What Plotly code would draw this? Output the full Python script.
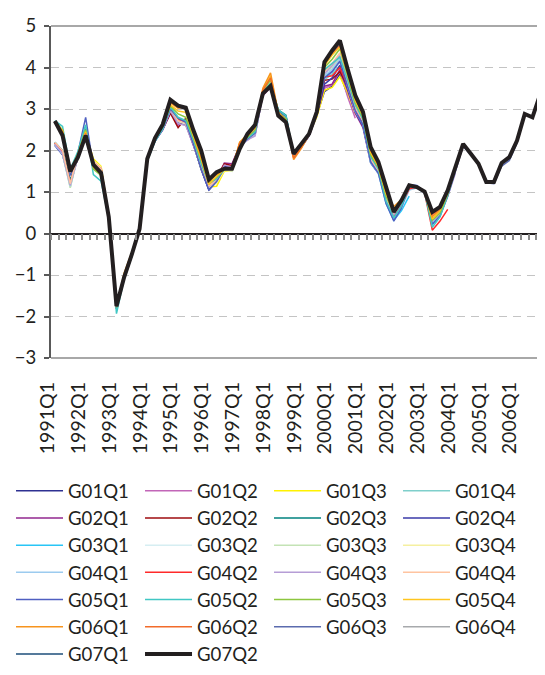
import plotly.graph_objects as go

# ---------------- data ----------------
quarters = [f"{y}Q{q}" for y in range(1991, 2007) for q in range(1, 5)]
x_ticktext = [q if q.endswith("Q1") else "" for q in quarters]

series_names = ["G01Q1", "G01Q2", "G01Q3", "G01Q4",
                "G02Q1", "G02Q2", "G02Q3", "G02Q4",
                "G03Q1", "G03Q2", "G03Q3", "G03Q4",
                "G04Q1", "G04Q2", "G04Q3", "G04Q4",
                "G05Q1", "G05Q2", "G05Q3", "G05Q4",
                "G06Q1", "G06Q2", "G06Q3", "G06Q4",
                "G07Q1", "G07Q2"]

series_colors = ["#2E3192", "#C266B8", "#FFF200", "#7FCFCB",
                 "#92278F", "#9E0B0F", "#00827F", "#3A3AA8",
                 "#29C5F6", "#D6EEF2", "#C4E3B5", "#F5F0A0",
                 "#9CCBEF", "#FF2A2A", "#B69DD6", "#FFC4A0",
                 "#4F5FC1", "#40C7C4", "#8DC63F", "#FFC51F",
                 "#F7941D", "#F26B2A", "#5B6BAE", "#A7A9AC",
                 "#1C4E7A", "#231F20"]

g01q1 = [2.15, 1.95, 1.15, 1.85, 2.40, 1.75, 1.55, 0.40,
         -1.78, -1.05, -0.52, 0.10, 1.78, 2.25, 2.55,
         2.95, 2.62, 2.70, 2.15, 1.55, 1.05, 1.30, 1.62,
         1.60, 2.10, 2.30, 2.40, 3.35, 3.55, 2.90, 2.75, 1.88, 2.10, 2.38, 2.85,
         3.42, 3.55, 3.85,
         3.35]
g01q2 = [2.18, 1.92, 1.20, 1.88, 2.45, 1.72, 1.58, 0.42,
         -1.80, -1.02, -0.48, 0.12, 1.80, 2.28, 2.58,
         2.92, 2.60, 2.72, 2.18, 1.58, 1.10, 1.32, 1.65,
         1.62, 2.08, 2.28, 2.42, 3.32, 3.52, 2.92, 2.76, 1.86, 2.08, 2.36, 2.84,
         3.50, 3.58, 3.92,
         3.30, 2.78]
g01q3 = [2.12, 1.98, 1.18, 1.90, 2.42, 1.80, 1.62, 0.45,
         -1.76, -0.98, -0.45, 0.14, 1.80, 2.26, 2.56,
         2.98, 2.70, 2.68, 2.15, 1.55, 1.12, 1.14, 1.50,
         1.52, 2.06, 2.32, 2.45, 3.38, 3.60, 2.88, 2.72, 1.86, 2.12, 2.40, 2.80,
         3.45, 3.52, 3.78,
         3.40, 2.90, 2.62]
g01q4 = [2.16, 1.90, 1.12, 1.92, 2.50, 1.70, 1.55, 0.40,
         -1.82, -1.05, -0.50, 0.10, 1.78, 2.24, 2.52,
         3.00, 2.72, 2.65, 2.18, 1.60, 1.15, 1.28, 1.58,
         1.58, 2.12, 2.30, 2.42, 3.36, 3.58, 2.92, 2.78, 1.88, 2.10, 2.38, 2.88,
         3.70, 3.85, 4.05,
         3.50, 2.95, 2.60, 1.75]
g02q1 = [2.14, 1.94, 1.22, 1.86, 2.44, 1.74, 1.56, 0.42,
         -1.78, -1.04, -0.50, 0.12, 1.79, 2.24, 2.50,
         2.90, 2.65, 2.62, 2.12, 1.58, 1.10, 1.30, 1.70,
         1.68, 2.12, 2.25, 2.40, 3.34, 3.55, 2.90, 2.76, 1.86, 2.10, 2.36, 2.86,
         3.55, 3.60, 3.95,
         3.45, 2.90, 2.55, 1.70, 1.45]
g02q2 = [2.18, 1.96, 1.25, 1.88, 2.46, 1.72, 1.58, 0.40,
         -1.80, -1.02, -0.48, 0.12, 1.80, 2.26, 2.52,
         2.90, 2.55, 2.78, 2.25, 1.62, 1.15, 1.35, 1.68,
         1.64, 2.10, 2.30, 2.44, 3.38, 3.58, 2.92, 2.80, 1.88, 2.10, 2.36, 2.86,
         3.69, 3.72, 3.90,
         3.55, 3.00, 2.65, 1.80, 1.50, 0.82]
g02q3 = [2.20, 2.00, 1.28, 1.92, 2.50, 1.68, 1.52, 0.38,
         -1.82, -1.06, -0.52, 0.10, 1.78, 2.25, 2.55,
         3.02, 2.75, 2.70, 2.20, 1.62, 1.15, 1.28, 1.58,
         1.58, 2.12, 2.30, 2.46, 3.42, 3.62, 2.98, 2.85, 1.90, 2.12, 2.38, 2.90,
         3.85, 3.95, 4.15,
         3.60, 3.05, 2.70, 1.85, 1.55, 0.85, 0.40]
g02q4 = [2.12, 1.90, 1.18, 1.88, 2.52, 1.70, 1.52, 0.40,
         -1.80, -1.04, -0.50, 0.10, 1.78, 2.22, 2.50,
         2.95, 2.68, 2.66, 2.14, 1.55, 1.05, 1.25, 1.60,
         1.60, 2.08, 2.28, 2.40, 3.35, 3.55, 2.95, 2.80, 1.86, 2.08, 2.35, 2.86,
         3.60, 3.75, 4.05,
         3.50, 2.95, 2.60, 1.75, 1.50, 0.80, 0.35, 0.60]
g03q1 = [2.20, 1.98, 1.20, 1.90, 2.48, 1.70, 1.55, 0.42,
         -1.82, -1.05, -0.50, 0.10, 1.78, 2.24, 2.54,
         3.00, 2.72, 2.66, 2.18, 1.58, 1.12, 1.25, 1.55,
         1.55, 2.10, 2.28, 2.45, 3.40, 3.62, 2.92, 2.78, 1.88, 2.10, 2.38, 2.88,
         3.80, 3.90, 4.20,
         3.55, 2.95, 2.62, 1.70, 1.45, 0.72, 0.32, 0.55, 0.90]
g03q2 = [2.15, 1.92, 1.10, 1.88, 2.42, 1.68, 1.50, 0.40,
         -1.80, -1.04, -0.50, 0.12, 1.80, 2.25, 2.52,
         2.98, 2.70, 2.64, 2.15, 1.58, 1.12, 1.28, 1.55,
         1.52, 2.08, 2.26, 2.40, 3.35, 3.58, 2.90, 2.78, 1.88, 2.10, 2.36, 2.85,
         3.85, 3.95, 4.20,
         3.55, 2.95, 2.65, 1.72, 1.45, 0.78, 0.40, 0.65, 1.05, 1.10]
g03q3 = [2.16, 1.94, 1.10, 1.90, 2.44, 1.70, 1.52, 0.40,
         -1.80, -1.03, -0.49, 0.12, 1.80, 2.26, 2.55,
         3.00, 2.72, 2.66, 2.16, 1.60, 1.15, 1.30, 1.56,
         1.50, 2.08, 2.28, 2.42, 3.36, 3.60, 2.92, 2.78, 1.88, 2.10, 2.38, 2.86,
         3.90, 4.00, 4.25,
         3.60, 3.00, 2.68, 1.75, 1.48, 0.80, 0.42, 0.68, 1.08, 1.12, 0.98]
g03q4 = [2.18, 1.96, 1.15, 1.92, 2.46, 1.76, 1.60, 0.42,
         -1.78, -1.00, -0.46, 0.14, 1.80, 2.26, 2.56,
         3.00, 2.70, 2.66, 2.16, 1.58, 1.12, 1.22, 1.52,
         1.52, 2.08, 2.30, 2.44, 3.38, 3.62, 2.90, 2.76, 1.86, 2.10, 2.38, 2.88,
         3.90, 4.05, 4.30,
         3.65, 3.05, 2.70, 1.78, 1.50, 0.82, 0.45, 0.70, 1.10, 1.12, 0.98, 0.30]
g04q1 = [2.14, 1.92, 1.14, 1.90, 2.46, 1.70, 1.54, 0.40,
         -1.80, -1.04, -0.50, 0.12, 1.80, 2.25, 2.54,
         3.00, 2.72, 2.66, 2.18, 1.60, 1.14, 1.26, 1.55,
         1.54, 2.10, 2.28, 2.42, 3.38, 3.60, 2.92, 2.78, 1.88, 2.10, 2.38, 2.88,
         3.80, 3.95, 4.20,
         3.60, 3.00, 2.68, 1.75, 1.48, 0.78, 0.38, 0.62, 1.05, 1.10, 0.96, 0.25, 0.45]
g04q2 = [2.18, 1.96, 1.22, 1.90, 2.48, 1.72, 1.56, 0.42,
         -1.80, -1.03, -0.49, 0.12, 1.80, 2.26, 2.55,
         3.00, 2.74, 2.68, 2.18, 1.60, 1.15, 1.28, 1.56,
         1.56, 2.10, 2.30, 2.44, 3.40, 3.62, 2.92, 2.78, 1.88, 2.10, 2.38, 2.88,
         3.77, 3.80, 4.00,
         3.58, 3.00, 2.68, 1.78, 1.50, 0.80, 0.42, 0.68, 1.08, 1.12, 0.98, 0.08, 0.30, 0.58]
g04q3 = [2.15, 1.94, 1.16, 1.88, 2.45, 1.72, 1.55, 0.40,
         -1.80, -1.04, -0.50, 0.12, 1.80, 2.24, 2.52,
         2.95, 2.65, 2.60, 2.15, 1.58, 1.12, 1.30, 1.65,
         1.60, 2.10, 2.26, 2.35, 3.36, 3.60, 2.92, 2.78, 1.88, 2.10, 2.38, 2.88,
         3.85, 4.05, 4.30,
         3.60, 3.02, 2.70, 1.78, 1.50, 0.82, 0.45, 0.72, 1.12, 1.15, 1.00, 0.30, 0.45, 0.90, 1.45]
g04q4 = [2.20, 2.00, 1.20, 1.92, 2.48, 1.74, 1.56, 0.42,
         -1.78, -1.02, -0.48, 0.12, 1.80, 2.26, 2.55,
         3.00, 2.72, 2.66, 2.18, 1.62, 1.15, 1.28, 1.56,
         1.56, 2.12, 2.30, 2.44, 3.42, 3.65, 2.92, 2.76, 1.86, 2.10, 2.38, 2.88,
         3.90, 4.10, 4.35,
         3.65, 3.05, 2.72, 1.80, 1.52, 0.85, 0.50, 0.75, 1.12, 1.14, 1.00, 0.35, 0.50, 0.92, 1.50, 2.10]
g05q1 = [2.68, 2.45, 1.40, 1.95, 2.80, 1.60, 1.40, 0.38,
         -1.80, -1.05, -0.50, 0.10, 1.78, 2.24, 2.52,
         3.00, 2.78, 2.68, 2.15, 1.55, 1.05, 1.25, 1.58,
         1.58, 2.08, 2.28, 2.42, 3.38, 3.60, 2.95, 2.82, 1.86, 2.10, 2.38, 2.88,
         3.75, 3.90, 4.15,
         3.55, 2.95, 2.62, 1.72, 1.45, 0.72, 0.30, 0.62, 1.18, 1.16, 1.00, 0.22, 0.42, 0.90, 1.50, 2.10, 1.90]
g05q2 = [2.72, 2.58, 1.55, 1.98, 2.62, 1.42, 1.26, 0.35,
         -1.93, -1.10, -0.55, 0.08, 1.75, 2.22, 2.52,
         3.05, 2.80, 2.72, 2.25, 1.68, 1.20, 1.32, 1.54,
         1.56, 2.12, 2.30, 2.45, 3.42, 3.62, 2.98, 2.84, 1.88, 2.12, 2.38, 2.90,
         3.95, 4.10, 4.25,
         3.70, 3.10, 2.75, 1.85, 1.55, 0.78, 0.38, 0.66, 1.14, 1.14, 1.00, 0.15, 0.40, 0.92, 1.55, 2.14, 1.90, 1.66]
g05q3 = [2.70, 2.50, 1.50, 1.92, 2.50, 1.55, 1.40, 0.38,
         -1.78, -1.04, -0.50, 0.12, 1.80, 2.26, 2.58,
         3.08, 2.88, 2.80, 2.30, 1.75, 1.22, 1.35, 1.55,
         1.55, 2.15, 2.32, 2.50, 3.45, 3.70, 2.92, 2.76, 1.86, 2.12, 2.40, 2.92,
         4.00, 4.20, 4.45,
         3.80, 3.15, 2.80, 1.90, 1.60, 0.90, 0.50, 0.78, 1.15, 1.12, 1.00, 0.32, 0.50, 0.95, 1.58, 2.15, 1.92, 1.68, 1.22]
g05q4 = [2.70, 2.48, 1.48, 1.90, 2.45, 1.60, 1.44, 0.40,
         -1.76, -1.00, -0.48, 0.12, 1.80, 2.28, 2.60,
         3.10, 2.95, 2.92, 2.35, 1.80, 1.18, 1.38, 1.55,
         1.55, 2.20, 2.38, 2.58, 3.45, 3.80, 2.90, 2.72, 1.82, 2.08, 2.40, 2.92,
         4.05, 4.30, 4.50,
         3.85, 3.20, 2.85, 1.95, 1.62, 0.95, 0.58, 0.80, 1.15, 1.12, 1.00, 0.35, 0.55, 0.98, 1.58, 2.15, 1.92, 1.70, 1.26, 1.22]
g06q1 = [2.70, 2.45, 1.50, 1.90, 2.42, 1.62, 1.45, 0.40,
         -1.75, -0.95, -0.45, 0.14, 1.80, 2.28, 2.60,
         3.15, 3.02, 3.05, 2.40, 1.85, 1.25, 1.42, 1.55,
         1.55, 2.20, 2.35, 2.55, 3.50, 3.87, 2.92, 2.70, 1.78, 2.05, 2.38, 2.90,
         4.10, 4.35, 4.55,
         3.90, 3.25, 2.88, 2.00, 1.65, 1.00, 0.65, 0.82, 1.16, 1.12, 1.00, 0.40, 0.58, 1.00, 1.60, 2.15, 1.92, 1.70, 1.26, 1.24, 1.68]
g06q2 = [2.70, 2.42, 1.50, 1.88, 2.40, 1.64, 1.46, 0.40,
         -1.75, -1.00, -0.48, 0.12, 1.80, 2.28, 2.62,
         3.18, 3.05, 3.02, 2.45, 1.95, 1.28, 1.45, 1.55,
         1.55, 2.18, 2.38, 2.58, 3.45, 3.75, 2.88, 2.70, 1.82, 2.08, 2.40, 2.92,
         4.10, 4.35, 4.55,
         3.92, 3.28, 2.90, 2.02, 1.68, 1.02, 0.55, 0.80, 1.16, 1.12, 1.00, 0.45, 0.60, 1.02, 1.60, 2.16, 1.92, 1.68, 1.25, 1.24, 1.70, 1.82]
g06q3 = [2.70, 2.38, 1.52, 1.86, 2.38, 1.66, 1.46, 0.40,
         -1.76, -1.04, -0.50, 0.11, 1.80, 2.28, 2.62,
         3.20, 3.05, 3.00, 2.45, 1.98, 1.28, 1.46, 1.56,
         1.56, 2.05, 2.40, 2.60, 3.38, 3.56, 2.86, 2.70, 1.90, 2.15, 2.40, 2.92,
         4.12, 4.38, 4.58,
         3.95, 3.30, 2.90, 2.05, 1.70, 1.05, 0.50, 0.78, 1.16, 1.12, 1.00, 0.50, 0.62, 1.04, 1.60, 2.16, 1.92, 1.66, 1.22, 1.20, 1.62, 1.76, 2.18]
g06q4 = [2.71, 2.36, 1.50, 1.84, 2.36, 1.66, 1.46, 0.40,
         -1.75, -1.05, -0.50, 0.11, 1.80, 2.30, 2.63,
         3.22, 3.08, 3.03, 2.48, 2.00, 1.30, 1.48, 1.56,
         1.56, 2.04, 2.40, 2.62, 3.37, 3.55, 2.84, 2.68, 1.92, 2.16, 2.40, 2.93,
         4.12, 4.40, 4.60,
         3.96, 3.32, 2.92, 2.07, 1.72, 1.07, 0.52, 0.80, 1.16, 1.12, 1.01, 0.52, 0.64, 1.04, 1.60, 2.16, 1.92, 1.68, 1.24, 1.24, 1.68, 1.82, 2.22, 2.86]
g07q1 = [2.71, 2.36, 1.50, 1.84, 2.36, 1.66, 1.46, 0.40,
         -1.75, -1.05, -0.50, 0.11, 1.80, 2.30, 2.63,
         3.22, 3.08, 3.03, 2.48, 2.00, 1.30, 1.48, 1.56,
         1.56, 2.04, 2.40, 2.62, 3.37, 3.55, 2.84, 2.68, 1.92, 2.16, 2.40, 2.93,
         4.13, 4.41, 4.62,
         3.97, 3.33, 2.93, 2.08, 1.72, 1.08, 0.52, 0.80, 1.16, 1.12, 1.01, 0.52, 0.64, 1.04, 1.60, 2.16, 1.92, 1.68, 1.24, 1.24, 1.70, 1.84, 2.24, 2.88, 2.80]
g07q2 = [2.71, 2.36, 1.50, 1.84, 2.36, 1.66, 1.46, 0.40,
         -1.75, -1.05, -0.50, 0.11, 1.80, 2.30, 2.63,
         3.22, 3.08, 3.03, 2.48, 2.00, 1.30, 1.48, 1.56,
         1.56, 2.04, 2.40, 2.62, 3.37, 3.55, 2.84, 2.68, 1.92, 2.16, 2.40, 2.93,
         4.13, 4.41, 4.65,
         3.97, 3.33, 2.93, 2.08, 1.72, 1.08, 0.52, 0.80, 1.16, 1.12, 1.01, 0.52, 0.64, 1.04, 1.60, 2.16, 1.92, 1.68, 1.24, 1.24, 1.70, 1.84, 2.24, 2.88, 2.80, 3.35]

series_values = [g01q1, g01q2, g01q3, g01q4, g02q1, g02q2, g02q3, g02q4,
                 g03q1, g03q2, g03q3, g03q4, g04q1, g04q2, g04q3, g04q4,
                 g05q1, g05q2, g05q3, g05q4, g06q1, g06q2, g06q3, g06q4,
                 g07q1, g07q2]

# ---------------- figure ----------------
fig = go.Figure()
for name, vals, col in zip(series_names, series_values, series_colors):
    fig.add_trace(go.Scatter(
        x=quarters[:len(vals)], y=vals, mode="lines", name=name,
        line=dict(color=col, width=4 if name == "G07Q2" else 1.5),
    ))

FONT = "Lato, 'Open Sans', sans-serif"
TXT = "#231F20"

# the page body adds an 8px offset on the left and top, so margins are reduced by 8px
fig.update_layout(
    width=545, height=675,
    margin=dict(l=43, r=9, t=18, b=325, autoexpand=False),
    paper_bgcolor="white", plot_bgcolor="white",
    font=dict(family=FONT, color=TXT),
    showlegend=True,
    legend=dict(
        orientation="h",
        x=-0.0811, xanchor="left", y=-0.344, yanchor="top",
        font=dict(size=18.6, family=FONT, color=TXT),
        itemwidth=47, entrywidth=67, entrywidthmode="pixels",
        traceorder="normal", bgcolor="rgba(0,0,0,0)",
    ),
    xaxis=dict(
        type="category", categoryorder="array", categoryarray=quarters,
        range=[-0.5, len(quarters) - 0.5],
        anchor="free", position=0.375,
        showline=True, linecolor=TXT, linewidth=1.5,
        ticks="outside", ticklen=6, tickwidth=1.5, tickcolor="#8a8a8a",
        tickson="boundaries",
        tickmode="array", tickvals=quarters, ticktext=x_ticktext,
        tickangle=-90, tickfont=dict(size=19.5, family=FONT, color=TXT),
        ticklabelstandoff=140, ticklabelshift=-7,
        showgrid=False, zeroline=False,
    ),
    yaxis=dict(
        range=[-3, 5], tick0=0, dtick=1,
        showgrid=True, gridcolor="#c4c4c4", gridwidth=1.3, griddash="8px,6px",
        zeroline=False,
        showline=True, linecolor="#595959", linewidth=2,
        ticks="outside", ticklen=5, tickwidth=1.5, tickcolor="#595959",
        tickfont=dict(size=18.5, family=FONT, color=TXT),
        ticklabelstandoff=4,
    ),
    shapes=[dict(type="path", xref="paper", yref="paper",
                 path="M 0 1 L 1 1 L 1 0 L 0 0",
                 line=dict(color="#a8a8a8", width=2), layer="above")],
)

fig.write_html("out.html")
